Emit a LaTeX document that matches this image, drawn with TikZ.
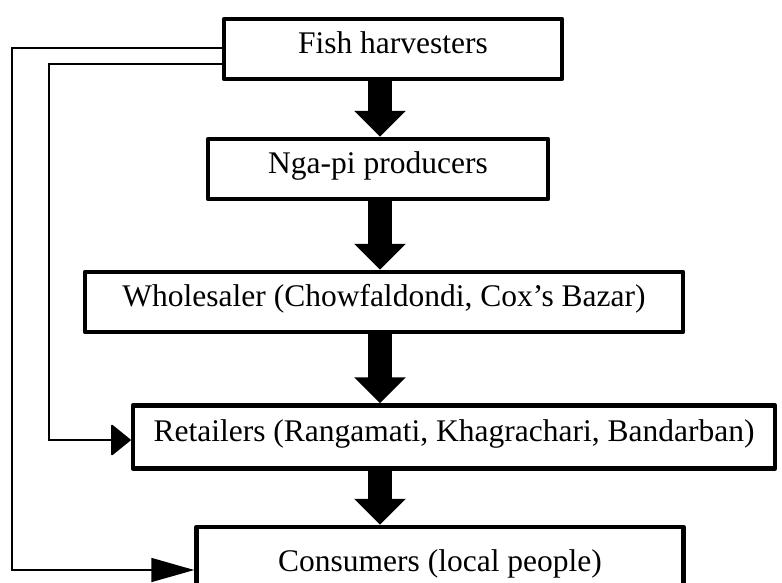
\documentclass[tikz,border=0pt]{standalone}
\usepackage{fontspec}
\setmainfont{Liberation Serif}
\usetikzlibrary{arrows.meta}
\begin{document}
\begin{tikzpicture}[x=1pt,y=-1pt,
  box/.style={draw, line width=4.5pt, line join=round, rectangle, inner sep=0pt,
    font=\fontsize{31.5}{36}\selectfont, text height=0.9em, text depth=0.07em},
  bigarrow/.style={line width=24pt, -{Triangle[width=50pt,length=26pt]}},
  fb/.style={line width=1.6pt}]
\useasboundingbox (0,0) rectangle (782,582);
\fill[white] (0,0) rectangle (782,582);
\node[box, minimum width=338pt, minimum height=60pt] (b1) at (393,49) {Fish harvesters};
\node[box, minimum width=340pt, minimum height=60pt] (b2) at (378,169) {Nga-pi producers};
\node[box, minimum width=598pt, minimum height=60pt] (b3) at (384,302) {Wholesaler (Chowfaldondi, Cox’s Bazar)};
\node[box, minimum width=642pt, minimum height=63pt] (b4) at (454,437) {Retailers (Rangamati, Khagrachari, Bandarban)};
\node[box, minimum width=487pt, minimum height=80pt] (b5) at (440,567) {Consumers (local people)};
\coordinate (ax) at (380,0);
\draw[bigarrow] (b1.south -| ax) -- (b2.north -| ax);
\draw[bigarrow] (b2.south -| ax) -- (b3.north -| ax);
\draw[bigarrow] (b3.south -| ax) -- (b4.north -| ax);
\draw[bigarrow] (b4.south -| ax) -- (b5.north -| ax);
\coordinate (c1) at (12,48);
\coordinate (c2) at (12,570);
\draw[fb, -{Triangle[length=43pt,width=24pt]}] (b1.west |- c1) -- (c1) -- (c2) -- (b5.west |- c2);
\coordinate (d1) at (49,64);
\coordinate (d2) at (49,440);
\draw[fb, -{Triangle[length=20pt,width=32pt,round]}] (b1.west |- d1) -- (d1) -- (d2) -- (b4.west |- d2);
\end{tikzpicture}
\end{document}
